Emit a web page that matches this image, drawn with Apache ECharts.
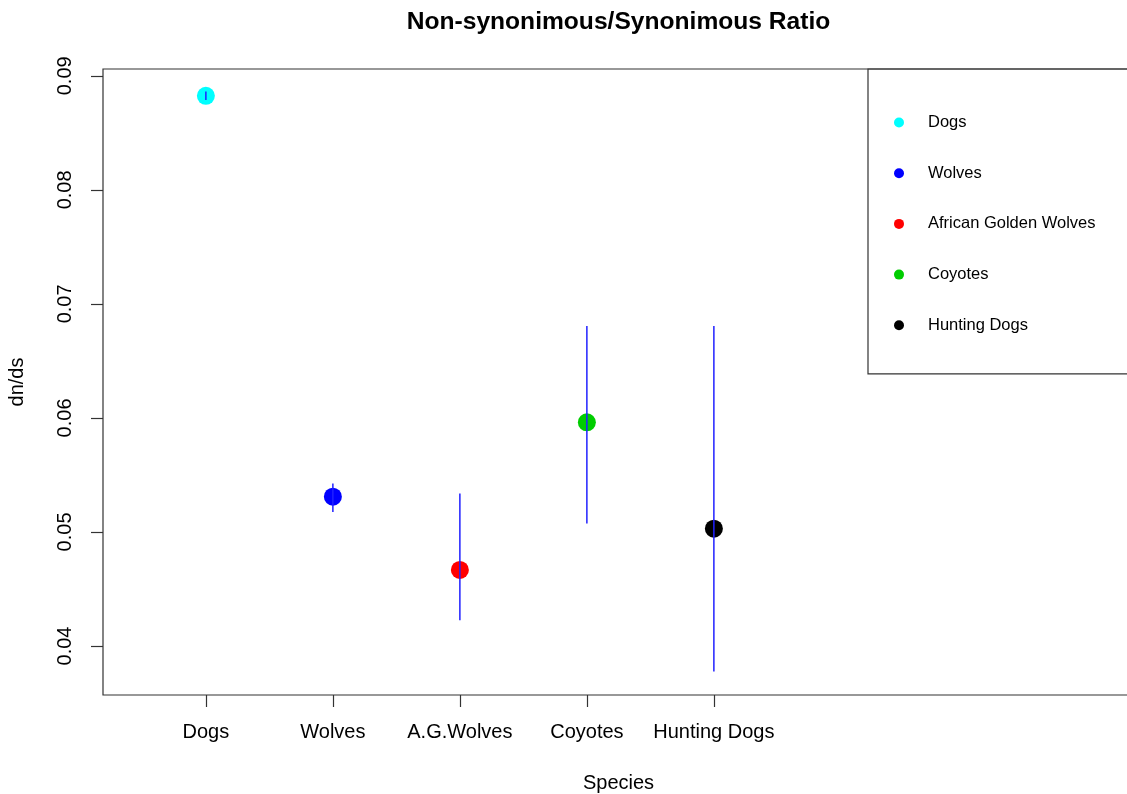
<!DOCTYPE html>
<html>
<head>
<meta charset="utf-8">
<script src="https://cdn.jsdelivr.net/npm/echarts@6/dist/echarts.min.js"></script>
<style>
  html, body { margin: 0; padding: 0; background: #fff; }
  #chart { width: 1127px; height: 794px; }
</style>
</head>
<body>
<div id="chart"></div>
<script>
// values
const species = ['Dogs', 'Wolves', 'A.G.Wolves', 'Coyotes', 'Hunting Dogs']
const legendNames = ['Dogs', 'Wolves', 'African Golden Wolves', 'Coyotes', 'Hunting Dogs']
const xPos = [1, 2, 3, 4, 5]
const ratio = [0.08825, 0.05309, 0.04667, 0.05961, 0.05029]
const lower = [0.08788, 0.05174, 0.04225, 0.05073, 0.03775]
const upper = [0.08863, 0.05425, 0.05337, 0.06806, 0.06806]
const colors = ['#00FFFF', '#0000FF', '#FF0000', '#00CD00', '#000000']
const yTicks = [0.04, 0.05, 0.06, 0.07, 0.08, 0.09]

const font = 'Liberation Sans, Arial, sans-serif'
const chart = echarts.init(document.getElementById('chart'))

const pointSeries = species.map((s, i) => ({
  name: legendNames[i],
  type: 'scatter',
  symbol: 'circle',
  symbolSize: 18,
  itemStyle: { color: colors[i], opacity: 1 },
  data: [[xPos[i], ratio[i]]],
  z: 2
}))

// vertical error bars drawn over the points
const errorSeries = {
  type: 'custom',
  name: 'err',
  z: 5,
  data: xPos.map((x, i) => [x, lower[i], upper[i]]),
  renderItem: (params, api) => {
    const a = api.coord([api.value(0), api.value(1)])
    const b = api.coord([api.value(0), api.value(2)])
    return {
      type: 'line',
      shape: { x1: a[0], y1: a[1], x2: b[0], y2: b[1] },
      style: { stroke: '#2020FF', lineWidth: 1.5 }
    }
  }
}

const option = {
  animation: false,
  backgroundColor: '#fff',
  title: {
    text: 'Non-synonimous/Synonimous Ratio',
    left: 613.5,
    textAlign: 'center',
    top: 5,
    textStyle: { fontFamily: font, fontSize: 24.6, fontWeight: 'bold', color: '#000' }
  },
  legend: {
    data: legendNames,
    orient: 'vertical',
    left: 868,
    top: 69,
    icon: 'circle',
    itemWidth: 10,
    itemHeight: 10,
    itemGap: 33.7,
    padding: [45, 80, 40, 26],
    borderColor: '#333',
    borderWidth: 1.2,
    textStyle: { fontFamily: font, fontSize: 16.5, color: '#000', lineHeight: 16, padding: [0, 0, 0, 19] }
  },
  grid: {
    left: 103, right: -7, top: 69, bottom: 99,
    outerBoundsMode: 'none',
    containLabel: false,
    show: true, borderColor: '#333', borderWidth: 1.2
  },
  xAxis: {
    type: 'value',
    min: 0.19,
    max: 8.308,
    name: 'Species',
    nameLocation: 'middle',
    nameGap: 78,
    nameTextStyle: { fontFamily: font, fontSize: 20, color: '#000' },
    splitLine: { show: false },
    axisLine: { show: false },
    axisTick: { show: true, length: 12, customValues: xPos, lineStyle: { color: '#333', width: 1.2 } },
    axisLabel: {
      customValues: xPos,
      margin: 27,
      formatter: v => species[Math.round(v) - 1],
      fontFamily: font, fontSize: 20, color: '#000'
    }
  },
  yAxis: {
    type: 'value',
    min: 0.0357,
    max: 0.0906,
    name: 'dn/ds',
    nameLocation: 'middle',
    nameGap: 76,
    nameRotate: 90,
    nameTextStyle: { fontFamily: font, fontSize: 20, color: '#000' },
    splitLine: { show: false },
    axisLine: { show: false },
    axisTick: { show: true, length: 12, customValues: yTicks, lineStyle: { color: '#333', width: 1.2 } },
    axisLabel: {
      customValues: yTicks,
      rotate: 90,
      margin: 28,
      formatter: v => v.toFixed(2),
      fontFamily: font, fontSize: 20, color: '#000'
    }
  },
  series: [...pointSeries, errorSeries]
}

chart.setOption(option)
</script>
</body>
</html>
